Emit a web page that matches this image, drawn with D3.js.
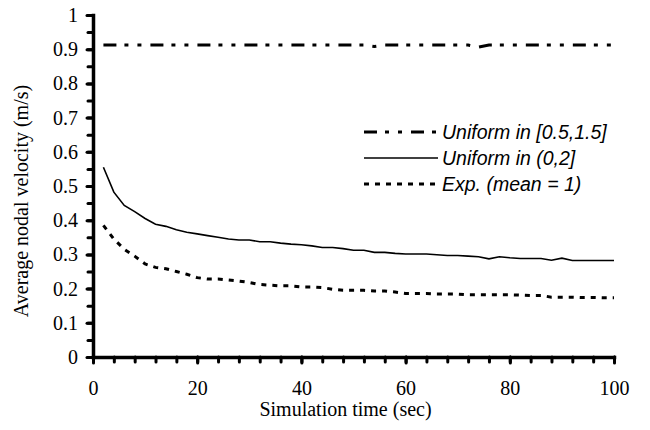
<!DOCTYPE html>
<html>
<head>
<meta charset="utf-8">
<script src="https://cdn.jsdelivr.net/npm/d3@7"></script>
<style>
  body { margin: 0; background: #fff; }
  .tick text { font-family: "Liberation Serif", "Times New Roman", serif; font-size: 20px; fill: #000; }
</style>
</head>
<body>
<div id="chart"></div>
<script>
var times = [2,4,6,8,10,12,14,16,18,20,22,24,26,28,30,32,34,36,38,40,42,44,46,48,50,
             52,54,56,58,60,62,64,66,68,70,72,74,76,78,80,82,84,86,88,90,92,94,96,98,100];

var uniform0515 = [0.912,0.912,0.912,0.912,0.912,0.912,0.912,0.912,0.912,0.912,0.912,0.912,0.912,0.912,0.912,0.912,0.912,0.912,0.912,0.912,0.912,0.912,0.912,0.912,0.912,
                   0.912,0.908,0.912,0.912,0.912,0.912,0.912,0.912,0.912,0.912,0.912,0.906,0.912,0.912,0.912,0.912,0.912,0.912,0.912,0.912,0.912,0.912,0.912,0.912,0.912];

var uniform02 = [0.555,0.482,0.443,0.425,0.405,0.388,0.382,0.372,0.365,0.36,0.355,0.35,0.345,0.342,0.342,0.337,0.337,0.333,0.33,0.328,0.325,0.32,0.32,0.317,0.312,
                 0.312,0.306,0.306,0.303,0.301,0.301,0.301,0.299,0.297,0.297,0.295,0.293,0.287,0.293,0.29,0.288,0.288,0.288,0.283,0.289,0.282,0.282,0.282,0.282,0.282];

var expMean1 = [0.385,0.345,0.315,0.295,0.272,0.262,0.258,0.25,0.242,0.232,0.228,0.228,0.225,0.222,0.218,0.212,0.21,0.208,0.208,0.205,0.205,0.203,0.198,0.195,0.195,
                0.195,0.193,0.193,0.19,0.186,0.186,0.186,0.184,0.184,0.184,0.182,0.182,0.182,0.182,0.182,0.181,0.18,0.18,0.175,0.175,0.175,0.174,0.174,0.173,0.173];

var seriesNames = ["Uniform in [0.5,1.5]", "Uniform in (0,2]", "Exp. (mean = 1)"];
var seriesData = [uniform0515, uniform02, expMean1];
var seriesDash = ["13,8,4,9,4,9", null, "5,6"];
var seriesWidth = [3, 1.6, 3];

var xMajor = [0,20,40,60,80,100];
var yMajor = [0,0.1,0.2,0.3,0.4,0.5,0.6,0.7,0.8,0.9,1];

var W = 650, H = 430;
var margin = {top: 15, right: 36, bottom: 73, left: 93},
    width = W - margin.left - margin.right,
    height = H - margin.top - margin.bottom;

var svg = d3.select("#chart").append("svg")
    .attr("width", W)
    .attr("height", H)
    .style("font-family", "Liberation Serif, serif");

var g = svg.append("g")
    .attr("transform", "translate(" + margin.left + "," + margin.top + ")");

var x = d3.scaleLinear().domain([0, 100]).range([0, width]);
var y = d3.scaleLinear().domain([0, 1]).range([height, 0]);

// minor ticks first, then major axes on top
g.append("g")
    .attr("transform", "translate(0," + height + ")")
    .call(d3.axisBottom(x).tickValues(d3.range(0, 101, 4)).tickSize(5).tickFormat(""))
    .call(function(a){ a.select(".domain").remove(); a.selectAll("line").attr("stroke-width", 3).attr("stroke-linecap", "round"); });

g.append("g")
    .call(d3.axisLeft(y).tickValues(d3.range(0, 1.001, 0.05)).tickSize(5).tickFormat(""))
    .call(function(a){ a.select(".domain").remove(); a.selectAll("line").attr("stroke-width", 3).attr("stroke-linecap", "round"); });

var xAxis = g.append("g")
    .attr("transform", "translate(0," + height + ")")
    .call(d3.axisBottom(x).tickValues(xMajor).tickSize(6).tickSizeOuter(0).tickPadding(18).tickFormat(d3.format("d")));

var yAxis = g.append("g")
    .call(d3.axisLeft(y).tickValues(yMajor).tickSize(6).tickSizeOuter(0).tickPadding(9).tickFormat(function(d){ return d === 0 || d === 1 ? d : d3.format(".1f")(d); }));

[xAxis, yAxis].forEach(function(a){
  a.select(".domain").attr("stroke-width", 3.5).attr("stroke-linecap", "square");
  a.selectAll(".tick line").attr("stroke-width", 3).attr("stroke-linecap", "round");
});

var line = d3.line()
    .x(function(d, i){ return x(times[i]); })
    .y(function(d){ return y(d); });

seriesData.forEach(function(s, i){
  g.append("path")
      .datum(s)
      .attr("fill", "none")
      .attr("stroke", "#000")
      .attr("stroke-width", seriesWidth[i])
      .attr("stroke-dasharray", seriesDash[i])
      .attr("d", line);
});

// legend
var legend = svg.append("g").attr("transform", "translate(364,132)");
seriesNames.forEach(function(name, i){
  var row = legend.append("g").attr("transform", "translate(0," + i * 26 + ")");
  row.append("line")
      .attr("x1", 0).attr("x2", 74)
      .attr("stroke", "#000")
      .attr("stroke-width", seriesWidth[i])
      .attr("stroke-dasharray", seriesDash[i]);
  row.append("text")
      .attr("x", 78)
      .attr("dy", "0.35em")
      .style("font-family", "Liberation Sans, Arial, sans-serif")
      .style("font-style", "italic")
      .style("font-size", "19.5px")
      .text(name);
});

svg.append("text")
    .attr("x", margin.left + width / 2 - 8)
    .attr("y", 416)
    .attr("text-anchor", "middle")
    .style("font-size", "20px")
    .text("Simulation time (sec)");

svg.append("text")
    .attr("transform", "translate(28," + (margin.top + height / 2 + 15) + ") rotate(-90)")
    .attr("text-anchor", "middle")
    .style("font-size", "20px")
    .text("Average nodal velocity (m/s)");
</script>
</body>
</html>
